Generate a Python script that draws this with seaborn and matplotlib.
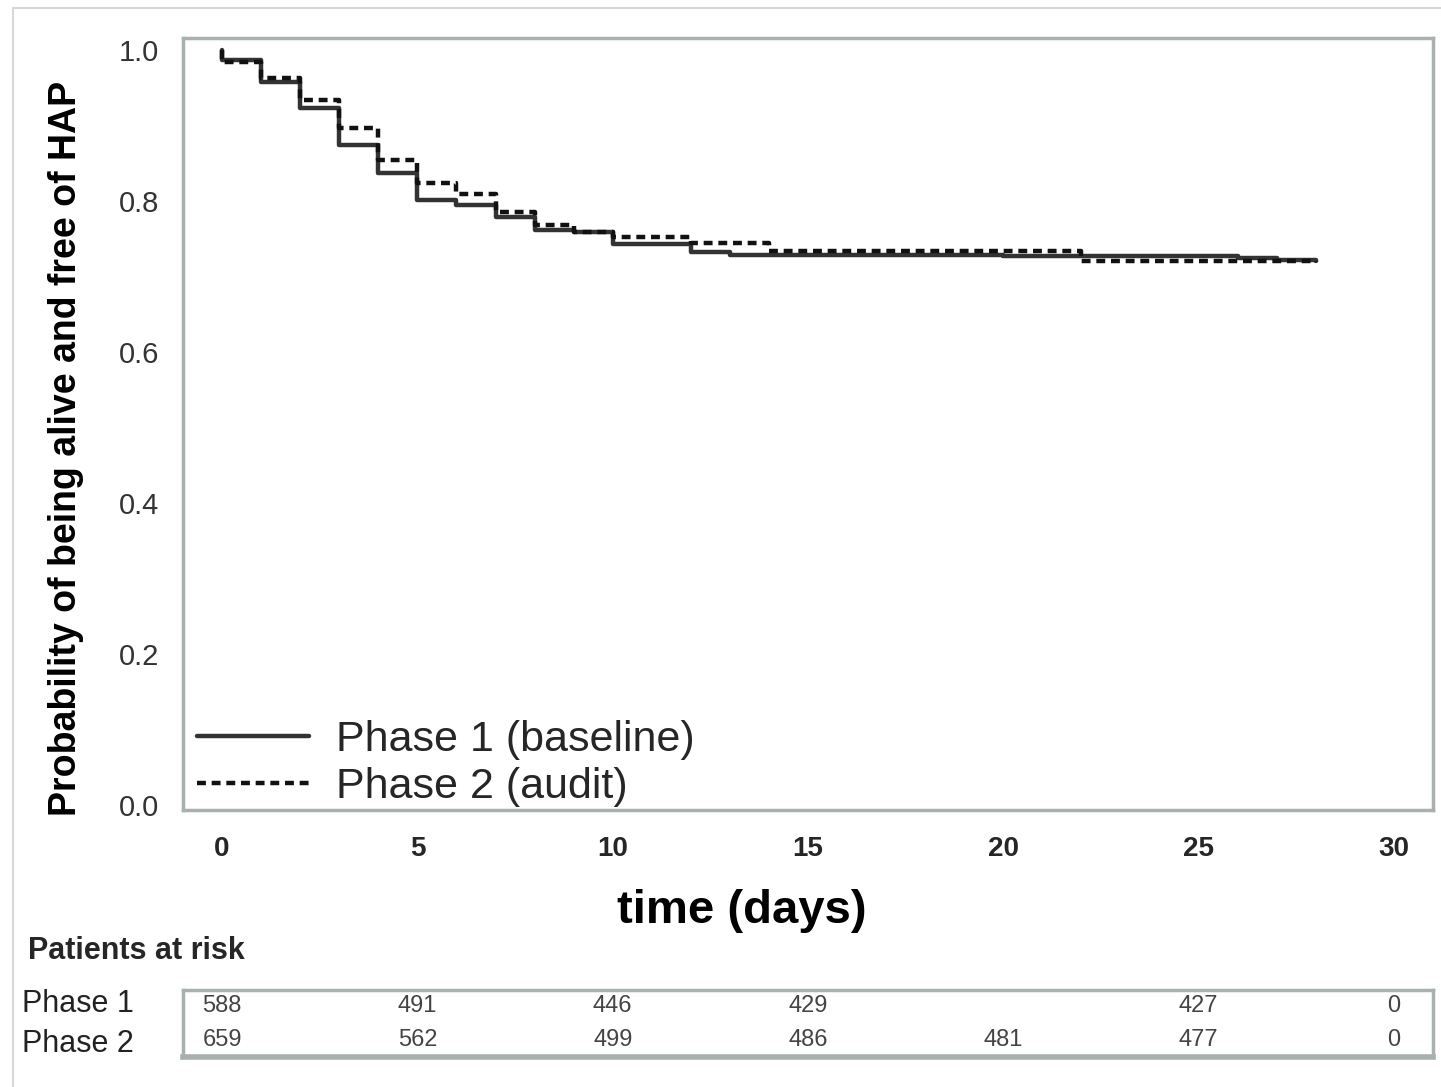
import numpy as np
import pandas as pd
import seaborn as sns
import matplotlib.pyplot as plt

# Kaplan-Meier steps (day, survival after the step)
p1_days = [0, 0, 1, 2, 3, 4, 5, 6, 7, 8, 9, 10, 12, 13, 20, 26, 27, 28]
p1_surv = [1.0, 0.987, 0.958, 0.923, 0.874, 0.837, 0.801, 0.795, 0.779, 0.762,
           0.759, 0.743, 0.733, 0.729, 0.727, 0.724, 0.722, 0.721]
p2_days = [0, 0, 1, 2, 3, 4, 5, 6, 7, 8, 9, 10, 12, 14, 22, 28]
p2_surv = [1.0, 0.984, 0.963, 0.934, 0.897, 0.854, 0.824, 0.809, 0.785, 0.768,
           0.759, 0.753, 0.744, 0.734, 0.721, 0.720]

# patients at risk
risk_days = [0, 5, 10, 15, 20, 25, 30]
risk_p1 = ['588', '491', '446', '429', '', '427', '0']
risk_p2 = ['659', '562', '499', '486', '481', '477', '0']

sns.set_style('white')
plt.rcParams['font.family'] = ['Liberation Sans', 'DejaVu Sans']

fig = plt.figure(figsize=(14.41, 10.87), dpi=100)
ax = fig.add_axes([0.127, 0.2548, 0.8675, 0.7102])

df1 = pd.DataFrame({'day': p1_days, 'surv': p1_surv})
df2 = pd.DataFrame({'day': p2_days, 'surv': p2_surv})
sns.lineplot(data=df1, x='day', y='surv', ax=ax, estimator=None, sort=False,
             drawstyle='steps-post', color='#333333', linewidth=3.2,
             label='Phase 1 (baseline)')
sns.lineplot(data=df2, x='day', y='surv', ax=ax, estimator=None, sort=False,
             drawstyle='steps-post', color='#111111', linewidth=3.2,
             linestyle=(0, (2.0, 1.3)), label='Phase 2 (audit)')

ax.set_xlim(-1, 31)
ax.set_ylim(-0.0066, 1.016)
ax.set_xticks(risk_days)
ax.set_yticks([0.0, 0.2, 0.4, 0.6, 0.8, 1.0])
ax.set_yticklabels(['0.0', '0.2', '0.4', '0.6', '0.8', '1.0'])
ax.tick_params(axis='x', direction='out', length=11, width=2, color='#a8b0b0',
               labelsize=20, pad=8)
ax.tick_params(axis='y', direction='out', length=11, width=2, color='#a8b0b0',
               labelsize=21, labelcolor='#333333', pad=6)
for lbl in ax.get_xticklabels():
    lbl.set_fontweight('bold')
for sp in ax.spines.values():
    sp.set_color('#a8b0b0')
    sp.set_linewidth(2.5)

ax.set_xlabel('time (days)', fontsize=34, fontweight='bold', color='black')
ax.xaxis.set_label_coords(0.447, -0.102)
ax.set_ylabel('Probability of being alive and free of HAP', fontsize=27,
              fontweight='bold', color='black')
ax.yaxis.set_label_coords(-0.079, 0.468)

ax.legend(loc='lower left', bbox_to_anchor=(0.011, 0.004), frameon=False,
          fontsize=31, handlelength=2.6, handletextpad=0.63, labelspacing=0.15,
          borderpad=0, borderaxespad=0)

# risk table
tax = fig.add_axes([0.127, 0.0276, 0.8675, 0.0616])
tax.set_xlim(-1, 31)
tax.set_ylim(0, 1)
tax.set_xticks([])
tax.set_yticks([])
for sp in tax.spines.values():
    sp.set_color('#a8b0b0')
    sp.set_linewidth(2.5)
tax.spines['bottom'].set_linewidth(4)
for d, a, b in zip(risk_days, risk_p1, risk_p2):
    tax.text(d, 0.76, a, ha='center', va='center', fontsize=17, color='#444444')
    tax.text(d, 0.26, b, ha='center', va='center', fontsize=17, color='#444444')

fig.text(0.0195, 0.125, 'Patients at risk', fontsize=22, fontweight='bold',
         va='center')
fig.text(0.0153, 0.076, 'Phase 1', fontsize=22, va='center', color='#222222')
fig.text(0.0153, 0.040, 'Phase 2', fontsize=22, va='center', color='#222222')

# faint outer frame
fig.add_artist(plt.Rectangle((0.009, -0.01), 1.0, 1.003, transform=fig.transFigure,
                             fill=False, edgecolor='#d8d8d8', linewidth=1.5))

fig.savefig('out.png', dpi=100)
